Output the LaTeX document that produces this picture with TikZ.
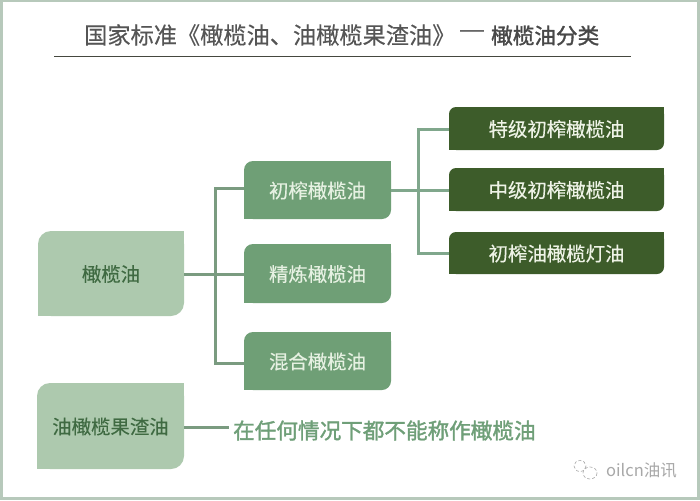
\documentclass[tikz,border=0pt]{standalone}
\usepackage{fontspec}
\setmainfont{Noto Sans CJK SC}
\newfontfamily\midfont[FakeBold=1.6]{Noto Sans CJK SC}
\newfontfamily\softfont[FakeBold=0.3]{Noto Sans CJK SC}
\newfontfamily\dashfont{Liberation Sans}
\definecolor{framec}{HTML}{B7C9BB}
\definecolor{titlec}{HTML}{555555}
\definecolor{rulec}{HTML}{45483F}
\definecolor{palec}{HTML}{ADC9AE}
\definecolor{midc}{HTML}{6F9F76}
\definecolor{darkc}{HTML}{3D5C2A}
\definecolor{paletxt}{HTML}{3F6A42}
\definecolor{midtxt}{HTML}{E6F1E2}
\definecolor{darktxt}{HTML}{EEF3E6}
\definecolor{linea}{HTML}{7A9B80}
\definecolor{lineb}{HTML}{80A78C}
\definecolor{notec}{HTML}{6F9F78}
\definecolor{markc}{HTML}{A8A8A8}
\newcommand{\fsz}[1]{\fontsize{#1pt}{#1pt}\selectfont}
% name, x1, y1, x2, y2, fill, text colour, corner radius, text
\newcommand{\leafbox}[9]{%
  \fill[#6,rounded corners=#8pt] (#2,#3) rectangle (#4,#5);
  \fill[#6] ({#4-#8},#3) rectangle (#4,{#3+#8});
  \fill[#6] (#2,{#5-#8}) rectangle ({#2+#8},#5);
  \node[boxlabel,text=#7,minimum width={(#4-#2)*1pt},minimum height={(#5-#3)*1pt}] (#1) at ({(#2+#4)/2},{(#3+#5)/2+.5}) {#9};
}
\tikzset{
  boxlabel/.style={inner sep=0pt,outer sep=0pt,font=\softfont\fsz{19.4}},
  linka/.style={draw=linea,line width=3pt},
  linkb/.style={draw=lineb,line width=3pt}
}
\begin{document}
\begin{tikzpicture}[x=1pt,y=-1pt]
\useasboundingbox (0,0) rectangle (700,500);
\fill[white] (0,0) rectangle (700,500);
\draw[framec,line width=3pt] (1,1) rectangle (698.5,498.5);

\node[anchor=west,inner sep=0pt,text=titlec,font=\softfont\fsz{23.2}] (t1) at (84,35) {国家标准《橄榄油、油橄榄果渣油》};
\node[anchor=west,inner sep=0pt,text=titlec,font=\dashfont\fsz{24}] (t2) at (460,34) {—};
\node[anchor=west,inner sep=0pt,text=titlec!85!black,font=\midfont\fsz{21.6}] (t3) at (491,35.5) {橄榄油分类};
\coordinate (ra) at (54,56.5);
\coordinate (rb) at (631,56.5);
\draw[rulec,line width=1pt] (ra) -- (rb);

\coordinate (hubA) at (215,274);
\coordinate (hubB) at (418,190);
\coordinate (noteend) at (229,427);

\leafbox{root}{38}{231}{184}{316}{palec}{paletxt}{13}{橄榄油}
\leafbox{pom}{37}{383}{184}{469}{palec}{paletxt}{13}{油橄榄果渣油}
\leafbox{virgin}{244}{161}{391}{219}{midc}{midtxt}{9}{初榨橄榄油}
\leafbox{refined}{244}{244}{391}{303}{midc}{midtxt}{9}{精炼橄榄油}
\leafbox{blend}{244}{332}{391}{390}{midc}{midtxt}{9}{混合橄榄油}
\leafbox{extra}{449}{107}{664}{150}{darkc}{darktxt}{7}{特级初榨橄榄油}
\leafbox{medium}{449}{168}{664}{211}{darkc}{darktxt}{7}{中级初榨橄榄油}
\leafbox{lamp}{449}{232}{664}{274}{darkc}{darktxt}{7}{初榨油橄榄灯油}

\draw[linka] (root.east |- hubA) -- (refined.west |- hubA);
\draw[linka] ([yshift=2pt]virgin.west) -| (hubA) |- ([yshift=-2pt]blend.west);
\draw[linkb] (virgin.east |- hubB) -- (medium.west |- hubB);
\draw[linkb] (extra.west) -| (hubB) |- (lamp.west);

\node[anchor=west,inner sep=0pt,text=notec,font=\midfont\fsz{21.6}] (note) at (233,430.5) {在任何情况下都不能称作橄榄油};
\draw[linka] (pom.east |- noteend) -- (noteend);

\node[anchor=west,inner sep=0pt,text=markc,font=\fsz{16.5}] (mark) at (606,470) {oilcn油讯};
\draw[markc,line width=.6pt,densely dashed] (580,466) ellipse (6 and 5.5);
\draw[markc,line width=.6pt,densely dashed] (590,473) ellipse (7 and 6);
\end{tikzpicture}
\end{document}
